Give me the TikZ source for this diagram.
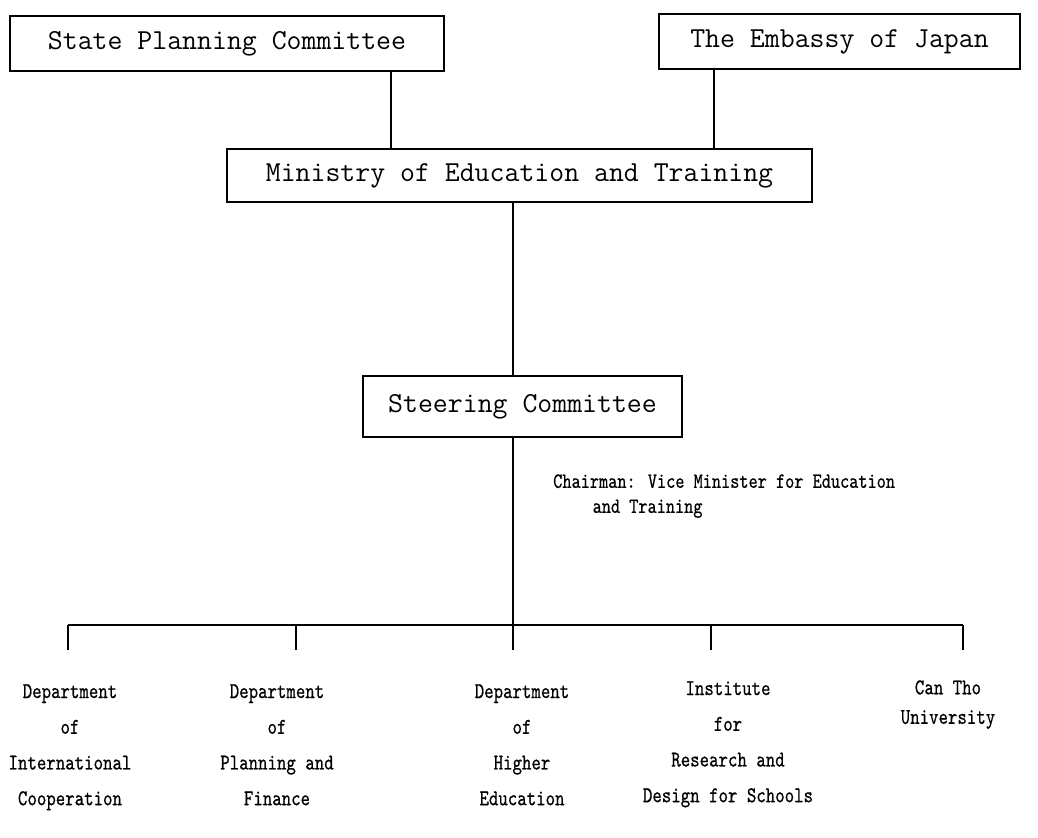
\documentclass[tikz,border=0pt]{standalone}
\usepackage{fontspec}
\newfontfamily\unitfont{lmmono10-regular.otf}[FakeStretch=0.8,FakeBold=0.6]
\usetikzlibrary{positioning}

\tikzset{
  orgbox/.style={draw, line width=0.9pt, inner sep=0pt,
    font=\ttfamily\fontsize{20.6}{24}\selectfont},
  unitlabel/.style={align=center, inner sep=0pt, anchor=north,
    font=\unitfont\fontsize{16}{25.4}\selectfont},
  link/.style={line width=1.3pt}
}

\begin{document}
\begin{tikzpicture}[x=0.025cm, y=-0.025cm]
  \useasboundingbox (0,0) rectangle (1038,837);

  % upper boxes
  \node[orgbox, minimum width=10.85cm, minimum height=1.375cm] (spc) at (227,43.5) {State Planning Committee};
  \node[orgbox, minimum width=9.025cm, minimum height=1.375cm] (emb) at (839.5,41.5) {The Embassy of Japan};
  \node[orgbox, minimum width=14.625cm, minimum height=1.325cm] (met) at (519.5,175.5) {Ministry of Education and Training};
  \node[orgbox, minimum width=7.975cm, minimum height=1.525cm] (stc) at (522.5,406.5) {Steering Committee};

  \coordinate (j1) at (391,0);
  \coordinate (j2) at (714,0);
  \coordinate (j3) at (513,0);
  \draw[link] (spc.south -| j1) -- (met.north -| j1);
  \draw[link] (emb.south -| j2) -- (met.north -| j2);
  \draw[link] (met.south -| j3) -- (stc.north -| j3);

  \node[anchor=north west, align=left, inner sep=0pt,
    font=\unitfont\fontsize{15.5}{17.8}\selectfont] (chair) at (553,474)
    {Chairman: Vice Minister for Education\\\hspace*{28pt}and Training};

  % bus to the five units
  \coordinate (t1) at (68,625);
  \coordinate (t2) at (296,625);
  \coordinate (t3) at (513,625);
  \coordinate (t4) at (711,625);
  \coordinate (t5) at (963,625);
  \draw[link] (stc.south -| j3) -- (t3);
  \draw[link] (t1) -- (t5);
  \foreach \i in {1,...,5}
    \draw[link] (t\i) -- ++(0,25);

  \node[unitlabel] (u1) at (70,684) {Department\\of\\International\\Cooperation};
  \node[unitlabel] (u2) at (277,684) {Department\\of\\Planning and\\Finance};
  \node[unitlabel] (u3) at (522,684) {Department\\of\\Higher\\Education};
  \node[unitlabel] (u4) at (728,681) {Institute\\for\\Research and\\Design for Schools};
  \node[unitlabel, font=\unitfont\fontsize{16}{21}\selectfont] (u5) at (948,680) {Can Tho\\University};
\end{tikzpicture}
\end{document}
